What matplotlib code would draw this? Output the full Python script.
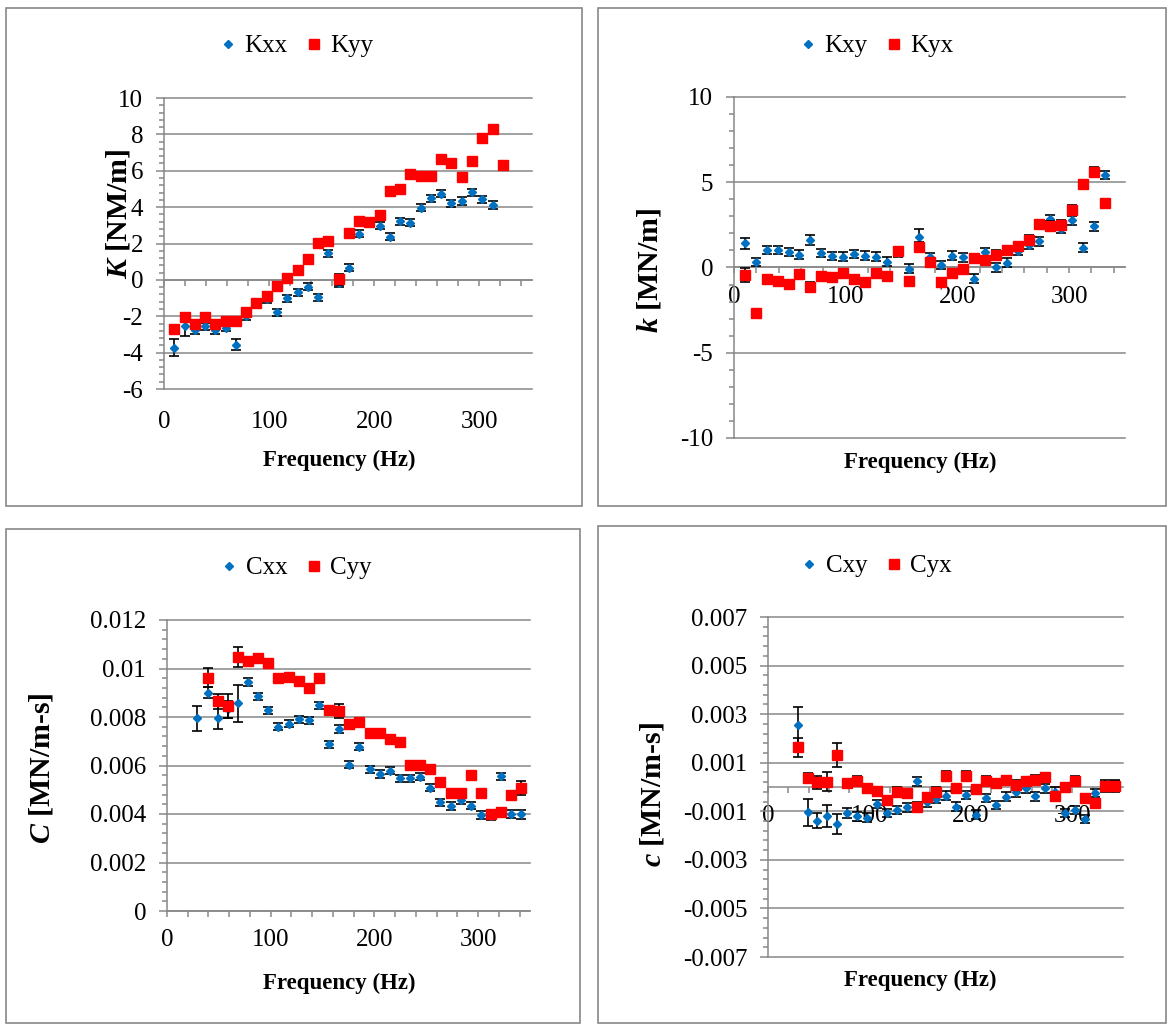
import numpy as np
import matplotlib
matplotlib.use("Agg")
import matplotlib.pyplot as plt
from matplotlib.lines import Line2D
from matplotlib.patches import Rectangle

plt.rcParams['font.family'] = ['Liberation Serif', 'DejaVu Serif']
plt.rcParams['mathtext.fontset'] = 'custom'
plt.rcParams['mathtext.rm'] = 'Liberation Serif'
plt.rcParams['mathtext.it'] = 'Liberation Serif:italic'
plt.rcParams['mathtext.bf'] = 'Liberation Serif:bold'
plt.rcParams['mathtext.bfit'] = 'Liberation Serif:italic:bold'

W, H = 1168, 1025
BLUE = '#0070C0'
RED = '#FF0000'
GRAY = '#888888'
FS = 18        # tick labels and legend
FS_X = 16.5    # x axis titles
FS_Y = 21.5    # y axis titles

# measured frequencies (Hz)
FREQ = [9.8, 19.5, 29.3, 39.1, 48.8, 58.6, 68.4, 78.1, 87.9, 97.7,
        107.4, 117.2, 127.0, 136.7, 146.5, 156.3, 166.0, 175.8, 185.5, 195.3,
        205.1, 214.8, 224.6, 234.4, 244.1, 253.9, 263.7, 273.4, 283.2, 293.0,
        302.7, 312.5, 322.3, 332.0, 341.8]

# --- stiffness, direct ---
KXX = [-3.72, -2.56, -2.75, -2.56, -2.75, -2.62, -3.57, -2.01, -1.30, -1.06,
       -1.79, -1.01, -0.68, -0.37, -0.95, 1.47, -0.18, 0.68, 2.53, 3.20,
       2.97, 2.38, 3.21, 3.15, 3.97, 4.49, 4.73, 4.21, 4.34, 4.82,
       4.43, 4.12]
KXX_ERR = [0.45, 0.55, 0.2, 0.2, 0.2, 0.2, 0.3, 0.2, 0.2, 0.2,
           0.2, 0.2, 0.2, 0.2, 0.2, 0.2, 0.2, 0.2, 0.2, 0.2,
           0.2, 0.2, 0.2, 0.2, 0.2, 0.2, 0.2, 0.2, 0.2, 0.2,
           0.2, 0.2]
KYY = [-2.69, -2.03, -2.40, -2.03, -2.40, -2.25, -2.25, -1.79, -1.28, -0.86,
       -0.31, 0.13, 0.55, 1.15, 2.03, 2.14, 0.04, 2.56, 3.26, 3.19,
       3.59, 4.91, 5.02, 5.84, 5.71, 5.73, 6.67, 6.41, 5.68, 6.56,
       7.82, 8.30, 6.34]
KYY_ERR = [0.2, 0.2, 0.2, 0.2, 0.2, 0.2, 0.2, 0.2, 0.2, 0.2,
           0.2, 0.2, 0.2, 0.2, 0.2, 0.2, 0.3, 0.2, 0.2, 0.2,
           0.2, 0.2, 0.2, 0.2, 0.2, 0.2, 0.2, 0.2, 0.2, 0.2,
           0.2, 0.2, 0.2]

# --- stiffness, cross ---
KXY = [1.41, 0.33, 1.04, 1.04, 0.92, 0.75, 1.61, 0.84, 0.67, 0.63,
       0.78, 0.69, 0.63, 0.35, 0.84, -0.06, 1.80, 0.59, 0.14, 0.69,
       0.59, -0.65, 0.88, 0.00, 0.29, 0.98, 1.31, 1.53, 2.84, 2.25,
       2.76, 1.16, 2.41, 5.43]
KXY_ERR = [0.3, 0.25, 0.25, 0.25, 0.25, 0.25, 0.3, 0.25, 0.25, 0.25,
           0.25, 0.25, 0.25, 0.25, 0.25, 0.25, 0.45, 0.25, 0.25, 0.25,
           0.25, 0.25, 0.25, 0.25, 0.25, 0.25, 0.25, 0.25, 0.25, 0.25,
           0.25, 0.25, 0.25, 0.25]
KYX = [-0.43, -2.69, -0.69, -0.80, -0.98, -0.41, -1.14, -0.49, -0.57, -0.35,
       -0.69, -0.84, -0.31, -0.49, 0.98, -0.78, 1.22, 0.33, -0.84, -0.31,
       -0.10, 0.55, 0.43, 0.76, 1.04, 1.24, 1.63, 2.55, 2.45, 2.51,
       3.39, 4.90, 5.63, 3.76]
KYX_ERR = [0.4, 0.25, 0.25, 0.25, 0.25, 0.25, 0.3, 0.25, 0.25, 0.25,
           0.25, 0.25, 0.25, 0.25, 0.25, 0.25, 0.25, 0.25, 0.25, 0.25,
           0.25, 0.25, 0.25, 0.25, 0.25, 0.25, 0.25, 0.25, 0.25, 0.25,
           0.25, 0.25, 0.25, 0.25]

# --- damping, direct ---
CXX = [0.00794, 0.00901, 0.00797, 0.00831, 0.00856, 0.00944, 0.00885, 0.00827, 0.00760, 0.00773,
       0.00790, 0.00786, 0.00848, 0.00687, 0.00751, 0.00604, 0.00677, 0.00585, 0.00565, 0.00578,
       0.00547, 0.00547, 0.00554, 0.00508, 0.00448, 0.00433, 0.00457, 0.00434, 0.00396, 0.00392,
       0.00556, 0.00400, 0.00398]
CXX_ERR = [0.00052, 0.00023, 0.00048, 0.00035, 0.00075, 0.00015, 0.00015, 0.00015, 0.00015, 0.00015,
           0.00015, 0.00015, 0.00015, 0.00015, 0.00015, 0.00015, 0.00015, 0.00015, 0.00015, 0.00015,
           0.00015, 0.00015, 0.00015, 0.00015, 0.00015, 0.00015, 0.00015, 0.00015, 0.00015, 0.00015,
           0.00015, 0.00015, 0.0002]
CYY = [0.00962, 0.00865, 0.00846, 0.01047, 0.01032, 0.01044, 0.01023, 0.00962, 0.00963, 0.00948,
       0.00920, 0.00962, 0.00828, 0.00824, 0.00773, 0.00780, 0.00732, 0.00732, 0.00709, 0.00698,
       0.00604, 0.00604, 0.00584, 0.00533, 0.00485, 0.00485, 0.00560, 0.00485, 0.00402, 0.00409,
       0.00478, 0.00508]
CYY_ERR = [0.0004, 0.0003, 0.0005, 0.0004, 0.00015, 0.00015, 0.00015, 0.00015, 0.00015, 0.00015,
           0.00015, 0.00015, 0.00015, 0.0003, 0.00015, 0.00015, 0.00015, 0.00015, 0.00015, 0.00015,
           0.00015, 0.00015, 0.00015, 0.00015, 0.00015, 0.00015, 0.00015, 0.00015, 0.00015, 0.00015,
           0.00015, 0.0003]

# --- damping, cross ---
CXY = [0.00256, -0.00104, -0.00138, -0.00121, -0.00152, -0.00107, -0.00121, -0.00127, -0.00070, -0.00107,
       -0.00095, -0.00084, 0.00023, -0.00063, -0.00049, -0.00036, -0.00081, -0.00033, -0.00114, -0.00045,
       -0.00074, -0.00040, -0.00022, -0.00005, -0.00038, -0.00005, -0.00019, -0.00107, -0.00095, -0.00132,
       -0.00025, 0.00003, 0.00005]
CXY_ERR = [0.00073, 0.00055, 0.0003, 0.00045, 0.0004, 0.00022, 0.00018, 0.00018, 0.00018, 0.00018,
           0.00018, 0.00018, 0.00018, 0.00018, 0.00018, 0.00018, 0.00018, 0.00018, 0.00018, 0.00018,
           0.00018, 0.00018, 0.00018, 0.00018, 0.00018, 0.00018, 0.00018, 0.00018, 0.00018, 0.00018,
           0.00018, 0.00018, 0.00018]
CYX = [0.00163, 0.00037, 0.00019, 0.00022, 0.00132, 0.00015, 0.00026, -0.00005, -0.00018, -0.00053,
       -0.00019, -0.00026, -0.00081, -0.00042, -0.00019, 0.00047, -0.00005, 0.00047, -0.00008, 0.00026,
       0.00015, 0.00029, 0.00010, 0.00023, 0.00030, 0.00040, -0.00038, -0.00001, 0.00026, -0.00045,
       -0.00067, 0.00003, 0.00003]
CYX_ERR = [0.0004, 0.00022, 0.00028, 0.0004, 0.0005, 0.00018, 0.00018, 0.00018, 0.00018, 0.00018,
           0.00018, 0.00018, 0.00018, 0.00018, 0.00018, 0.00018, 0.00018, 0.00018, 0.00018, 0.00018,
           0.00018, 0.00018, 0.00018, 0.00018, 0.00018, 0.00018, 0.00018, 0.00018, 0.00018, 0.00018,
           0.00018, 0.00025, 0.00025]

X_TICKS = [0, 100, 200, 300]
K_TICKS = [-6, -4, -2, 0, 2, 4, 6, 8, 10]
KC_TICKS = [-10, -5, 0, 5, 10]
C_TICKS = [0, 0.002, 0.004, 0.006, 0.008, 0.01, 0.012]
CC_TICKS = [-0.007, -0.005, -0.003, -0.001, 0.001, 0.003, 0.005, 0.007]


def add_axes(fig, x0, y0, x1, y1):
    return fig.add_axes([x0 / W, 1 - y1 / H, (x1 - x0) / W, (y1 - y0) / H])


def setup(ax, yticks, minor, zero_axis, label_low):
    ax.set_xlim(0, 350)
    ax.set_ylim(yticks[0], yticks[-1])
    ax.set_facecolor('none')
    for s in ['top', 'right']:
        ax.spines[s].set_visible(False)
    for s in ['left', 'bottom']:
        ax.spines[s].set_color(GRAY)
        ax.spines[s].set_linewidth(1.1)
    if zero_axis:
        ax.spines['bottom'].set_position(('data', 0))
    for t in yticks:
        ax.axhline(t, color=GRAY, lw=1.1, zorder=0.5, clip_on=False)

    ax.set_yticks(yticks)
    ax.set_yticklabels([f'{t:g}' for t in yticks])
    ax.set_yticks(np.arange(yticks[0], yticks[-1] + minor / 2, minor), minor=True)
    ax.tick_params(axis='y', which='major', length=6, width=1.1, color=GRAY,
                   labelsize=FS, pad=9)
    ax.tick_params(axis='y', which='minor', length=3.5, width=1.1, color=GRAY)

    ax.set_xticks(X_TICKS)
    ax.set_xticks(np.arange(0, 341, 20), minor=True)
    ax.tick_params(axis='x', which='both', length=4, width=1.1, color=GRAY,
                   labelsize=FS, pad=9)
    if label_low:
        ax.tick_params(axis='x', labelbottom=False)
        sec = ax.secondary_xaxis(0)
        sec.set_xticks(X_TICKS)
        sec.tick_params(length=0, labelsize=FS, pad=16)
        sec.spines['bottom'].set_visible(False)


def series(ax, x, y, err, color, marker, ms, z):
    ax.errorbar(x, y, yerr=err, fmt=marker, color=color, mfc=color, mec=color,
                ms=ms, ecolor='black', elinewidth=1.2, capsize=3.6, capthick=1.2,
                zorder=z, clip_on=False)


def legend(fig, cx, cy, lab1, lab2):
    h = [Line2D([], [], ls='none', marker='D', color=BLUE, ms=4.5),
         Line2D([], [], ls='none', marker='s', color=RED, ms=6.5)]
    fig.legend(h, [lab1, lab2], loc='center', bbox_to_anchor=(cx / W, 1 - cy / H),
               ncol=2, frameon=False, fontsize=FS, handlelength=0.7,
               handletextpad=0.3, columnspacing=0.7)


def titles(xlab_xy, ylab_xy, ylab):
    fig.text(xlab_xy[0] / W, 1 - xlab_xy[1] / H, 'Frequency (Hz)', ha='center',
             va='center', fontsize=FS_X, fontweight='bold')
    fig.text(ylab_xy[0] / W, 1 - ylab_xy[1] / H, ylab, ha='center', va='center',
             rotation=90, fontsize=FS_Y, fontweight='bold')


fig = plt.figure(figsize=(W / 100, H / 100), dpi=100)

# panel borders
for (x0, y0, x1, y1) in [(6, 8, 582, 506), (598, 8, 1166, 506),
                         (6, 529, 580, 1023), (598, 526, 1166, 1023)]:
    fig.patches.append(Rectangle((x0 / W, 1 - y1 / H), (x1 - x0) / W, (y1 - y0) / H,
                                 transform=fig.transFigure, fill=False,
                                 edgecolor=GRAY, lw=1.2))

# top left: K direct
ax1 = add_axes(fig, 164, 98, 532, 389)
setup(ax1, K_TICKS, 0.4, True, True)
series(ax1, FREQ[:len(KXX)], KXX, KXX_ERR, BLUE, 'D', 4.5, 3)
series(ax1, FREQ[:len(KYY)], KYY, KYY_ERR, RED, 's', 6.5, 4)
legend(fig, 296, 46, 'Kxx', 'Kyy')
titles((339, 460), (118, 214), r'$\mathbfit{K}$ [NM/m]')

# top right: k cross
ax2 = add_axes(fig, 734, 97, 1125, 438)
setup(ax2, KC_TICKS, 1, True, False)
series(ax2, FREQ[:len(KXY)], KXY, KXY_ERR, BLUE, 'D', 4.5, 3)
series(ax2, FREQ[:len(KYX)], KYX, KYX_ERR, RED, 's', 6.5, 4)
legend(fig, 876, 46, 'Kxy', 'Kyx')
titles((920, 462), (650, 270), r'$\mathbfit{k}$ [MN/m]')

# bottom left: C direct
ax3 = add_axes(fig, 167, 620, 530, 911)
setup(ax3, C_TICKS, 0.0004, False, False)
series(ax3, FREQ[2:2 + len(CXX)], CXX, CXX_ERR, BLUE, 'D', 4.5, 3)
series(ax3, FREQ[3:3 + len(CYY)], CYY, CYY_ERR, RED, 's', 6.5, 4)
legend(fig, 296, 568, 'Cxx', 'Cyy')
titles((339, 983), (42, 768), r'$\mathbfit{C}$ [MN/m-s]')

# bottom right: c cross
ax4 = add_axes(fig, 768, 617, 1123, 957)
setup(ax4, CC_TICKS, 0.0004, True, False)
series(ax4, FREQ[2:2 + len(CXY)], CXY, CXY_ERR, BLUE, 'D', 4.5, 3)
series(ax4, FREQ[2:2 + len(CYX)], CYX, CYX_ERR, RED, 's', 6.5, 4)
legend(fig, 876, 566, 'Cxy', 'Cyx')
titles((920, 980), (652, 795), r'$\mathbfit{c}$ [MN/m-s]')

fig.savefig('out.png', dpi=100)
